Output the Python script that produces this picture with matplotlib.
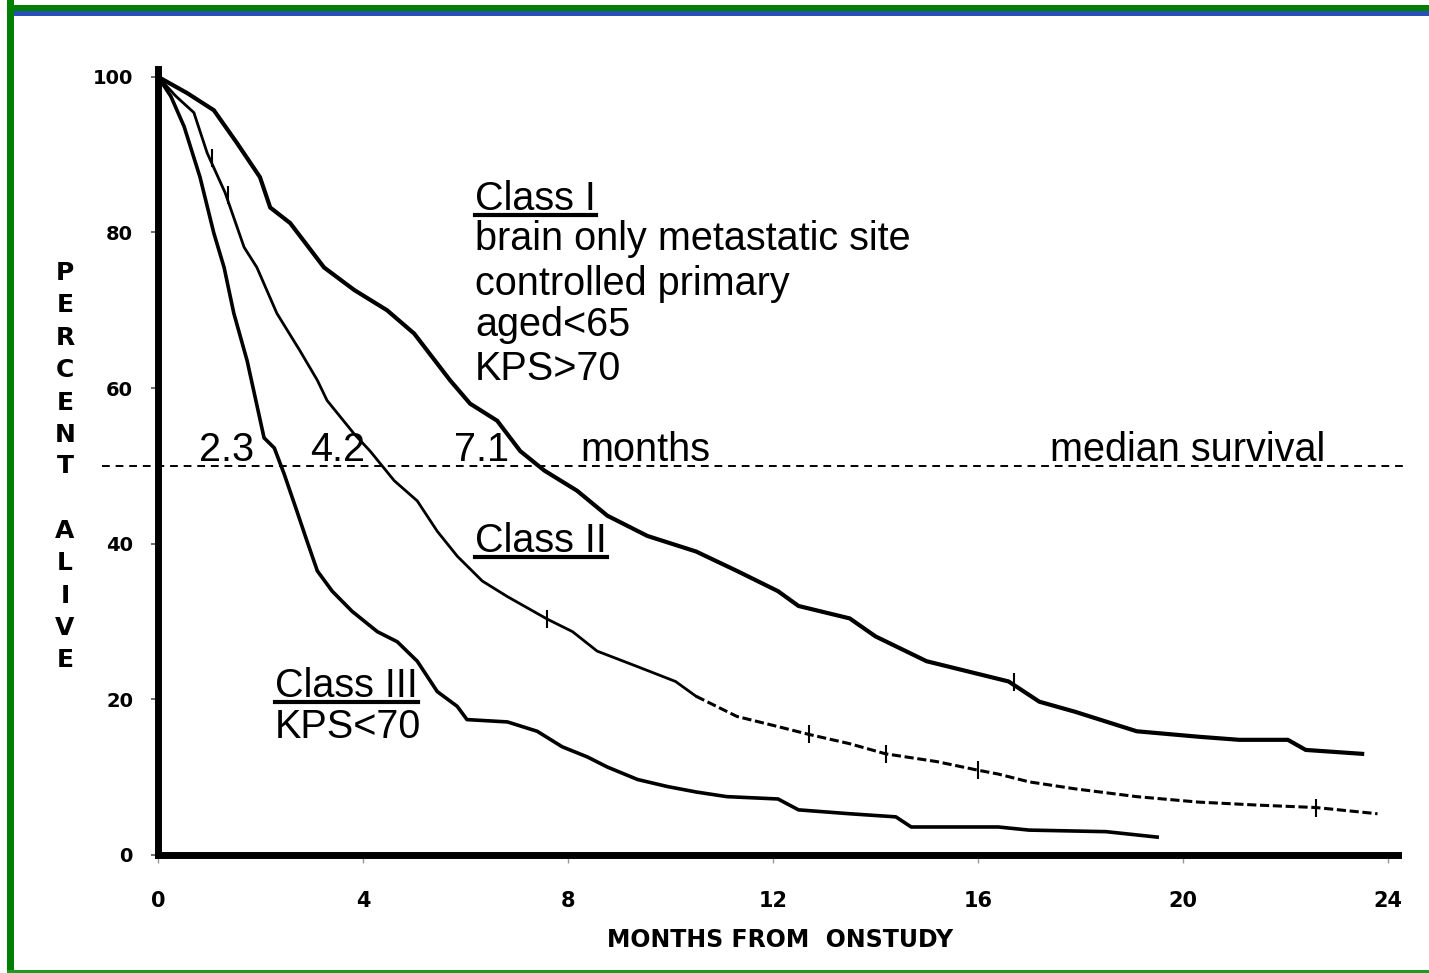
import matplotlib
matplotlib.use("Agg")
import matplotlib.pyplot as plt
from matplotlib.lines import Line2D
from matplotlib.patches import Rectangle

# survival curves (months, percent alive)
class1_x = [0, 0.57, 1.09, 1.54, 1.99, 2.19, 2.58, 3.24, 3.83, 4.47, 5.0, 5.70, 6.09, 6.62, 7.07, 7.54,
            8.18, 8.77, 9.55, 10.5, 11.3, 12.1, 12.5, 13.5, 14.0, 15.0, 15.8, 16.6, 17.2, 17.9, 19.1,
            20.3, 21.1, 22.05, 22.4, 23.5]
class1_y = [100, 97.9, 95.7, 91.5, 87.1, 83.2, 81.2, 75.5, 72.6, 70.0, 67.0, 61.0, 58.0, 55.8, 51.9, 49.4,
            46.8, 43.6, 41.0, 39.0, 36.5, 33.9, 32.0, 30.4, 28.1, 24.9, 23.6, 22.3, 19.7, 18.4, 15.9,
            15.2, 14.8, 14.8, 13.5, 13.0]

class2_x = [0, 0.35, 0.70, 0.96, 1.31, 1.68, 1.93, 2.32, 2.77, 3.11, 3.30, 3.83, 4.14, 4.61, 5.06, 5.45,
            5.84, 6.33, 6.82, 7.60, 8.09, 8.57, 9.36, 10.1, 10.5, 11.3, 12.1, 12.7, 13.5, 14.2, 15.2,
            16.0, 16.4, 17.0, 17.9, 19.1, 20.3, 21.5, 22.6, 23.8]
class2_y = [100, 97.5, 95.4, 90.2, 85.1, 78.1, 75.5, 69.6, 64.8, 61.0, 58.4, 54.1, 51.9, 48.1, 45.5, 41.6,
            38.4, 35.2, 33.2, 30.3, 28.7, 26.2, 24.2, 22.3, 20.4, 17.8, 16.5, 15.5, 14.3, 13.0, 12.0,
            10.9, 10.4, 9.4, 8.5, 7.5, 6.8, 6.4, 6.1, 5.3]

class3_x = [0, 0.25, 0.51, 0.82, 1.09, 1.29, 1.48, 1.74, 1.88, 2.07, 2.27, 2.46, 2.71, 2.91, 3.11, 3.40,
            3.79, 4.28, 4.67, 5.06, 5.45, 5.84, 6.03, 6.82, 7.40, 7.89, 8.38, 8.77, 9.36, 9.94, 10.5,
            11.1, 12.1, 12.5, 13.5, 14.4, 14.7, 16.4, 17.0, 18.5, 19.5]
class3_y = [100, 97.5, 93.6, 87.1, 79.9, 75.5, 69.6, 63.5, 59.3, 53.6, 52.3, 49.0, 44.2, 40.3, 36.5, 33.9,
            31.3, 28.7, 27.4, 24.9, 21.0, 19.1, 17.4, 17.1, 15.9, 13.9, 12.6, 11.3, 9.7, 8.8, 8.1,
            7.5, 7.2, 5.8, 5.3, 4.9, 3.6, 3.6, 3.2, 3.0, 2.3]

# censoring ticks
cens1_x = [16.7]
cens1_y = [22.2]
cens2_x = [1.05, 1.37, 7.6, 12.7, 14.2, 16.0, 22.6]
cens2_y = [89.5, 84.8, 30.3, 15.5, 13.0, 10.9, 6.1]

medians = [2.3, 4.2, 7.1]
median_pos = [1.33, 3.51, 6.32]
x_ticks = [0, 4, 8, 12, 16, 20, 24]
y_ticks = [0, 20, 40, 60, 80, 100]

W, H = 1429, 973
fig = plt.figure(figsize=(W / 100, H / 100), dpi=100)
fig.patch.set_facecolor("white")

# frame of the screenshot
fig.add_artist(Rectangle((7 / W, 0), 7 / W, 1, transform=fig.transFigure, color="#007f00", lw=0))
fig.add_artist(Rectangle((7 / W, 1 - 11 / H), 1, 6 / H, transform=fig.transFigure, color="#007f00", lw=0))
fig.add_artist(Rectangle((14 / W, 1 - 16 / H), 1, 5 / H, transform=fig.transFigure, color="#2850b8", lw=0))
fig.add_artist(Rectangle((7 / W, 0), 1, 3 / H, transform=fig.transFigure, color="#1e9a1e", lw=0))

ax = fig.add_axes([158 / W, 1 - 855 / H, (1398 - 158) / W, (855 - 69) / H])
ax.set_xlim(0, 24.2)
ax.set_ylim(0, 101)
for s in ["top", "right"]:
    ax.spines[s].set_visible(False)
for s in ["left", "bottom"]:
    ax.spines[s].set_linewidth(5)
    ax.spines[s].set_capstyle("projecting")

tickfont = ["Liberation Sans Narrow", "DejaVu Sans"]
ax.set_xticks(x_ticks)
ax.set_yticks(y_ticks)
ax.set_xticklabels([str(v) for v in x_ticks], family=tickfont, fontweight="bold", fontsize=15)
ax.set_yticklabels([str(v) for v in y_ticks], family=tickfont, fontweight="bold", fontsize=14)
ax.tick_params(axis="x", length=6, width=1, color="#999999", pad=20)
ax.tick_params(axis="y", length=5, width=1.2, color="#555555", pad=13)

ax.plot(class1_x, class1_y, color="black", lw=3.0, solid_joinstyle="miter", clip_on=False)
ax.plot(class2_x[:25], class2_y[:25], color="black", lw=2.0, clip_on=False)
ax.plot(class2_x[24:], class2_y[24:], color="black", lw=2.2, ls=(0, (3, 1.2)), clip_on=False)
ax.plot(class3_x, class3_y, color="black", lw=2.6, clip_on=False)
ax.plot(cens1_x, cens1_y, ls="none", marker="|", ms=13, mew=1.5, color="black")
ax.plot(cens2_x, cens2_y, ls="none", marker="|", ms=13, mew=1.5, color="black")

# median line, runs past the y axis
ax.plot([-1.1, 24.4], [50, 50], color="black", lw=1.4, ls=(0, (4, 3)), clip_on=False)

txt = dict(family=["Liberation Sans", "DejaVu Sans"], fontsize=28.5, color="black", va="baseline")
for m, p in zip(medians, median_pos):
    ax.text(p, 50.6, str(m), ha="center", **txt)
ax.text(8.24, 50.6, "months", ha="left", **txt)
ax.text(17.41, 50.6, "median survival", ha="left", **txt)

t1 = ax.text(6.19, 82.9, "Class I", ha="left", **txt)
ax.text(6.19, 77.8, "brain only metastatic site", ha="left", **txt)
ax.text(6.19, 71.9, "controlled primary", ha="left", **txt)
ax.text(6.19, 66.7, "aged<65", ha="left", **txt)
ax.text(6.19, 61.1, "KPS>70", ha="left", **txt)
t2 = ax.text(6.19, 38.9, "Class II", ha="left", **txt)
t3 = ax.text(2.28, 20.3, "Class III", ha="left", **txt)
ax.text(2.28, 15.0, "KPS<70", ha="left", **txt)

# vertical stacked y label
letters = ["P", "E", "R", "C", "E", "N", "T", "A", "L", "I", "V", "E"]
letter_y = [273, 305, 338, 370, 403, 435, 466, 531, 563, 596, 628, 660]
for c, yy in zip(letters, letter_y):
    fig.text(65 / W, 1 - yy / H, c, ha="center", va="center", family=tickfont,
             fontweight="bold", fontsize=18)

fig.text(780 / W, 1 - 940 / H, "MONTHS FROM  ONSTUDY", ha="center", va="center",
         family=tickfont, fontweight="bold", fontsize=17)

# underline the class headings
fig.canvas.draw()
for t in [t1, t2, t3]:
    bb = t.get_window_extent()
    fig.add_artist(Line2D([bb.x0, bb.x1], [bb.y0 + 3, bb.y0 + 3], transform=None,
                          color="black", lw=3))

fig.savefig("out.png", dpi=100)
